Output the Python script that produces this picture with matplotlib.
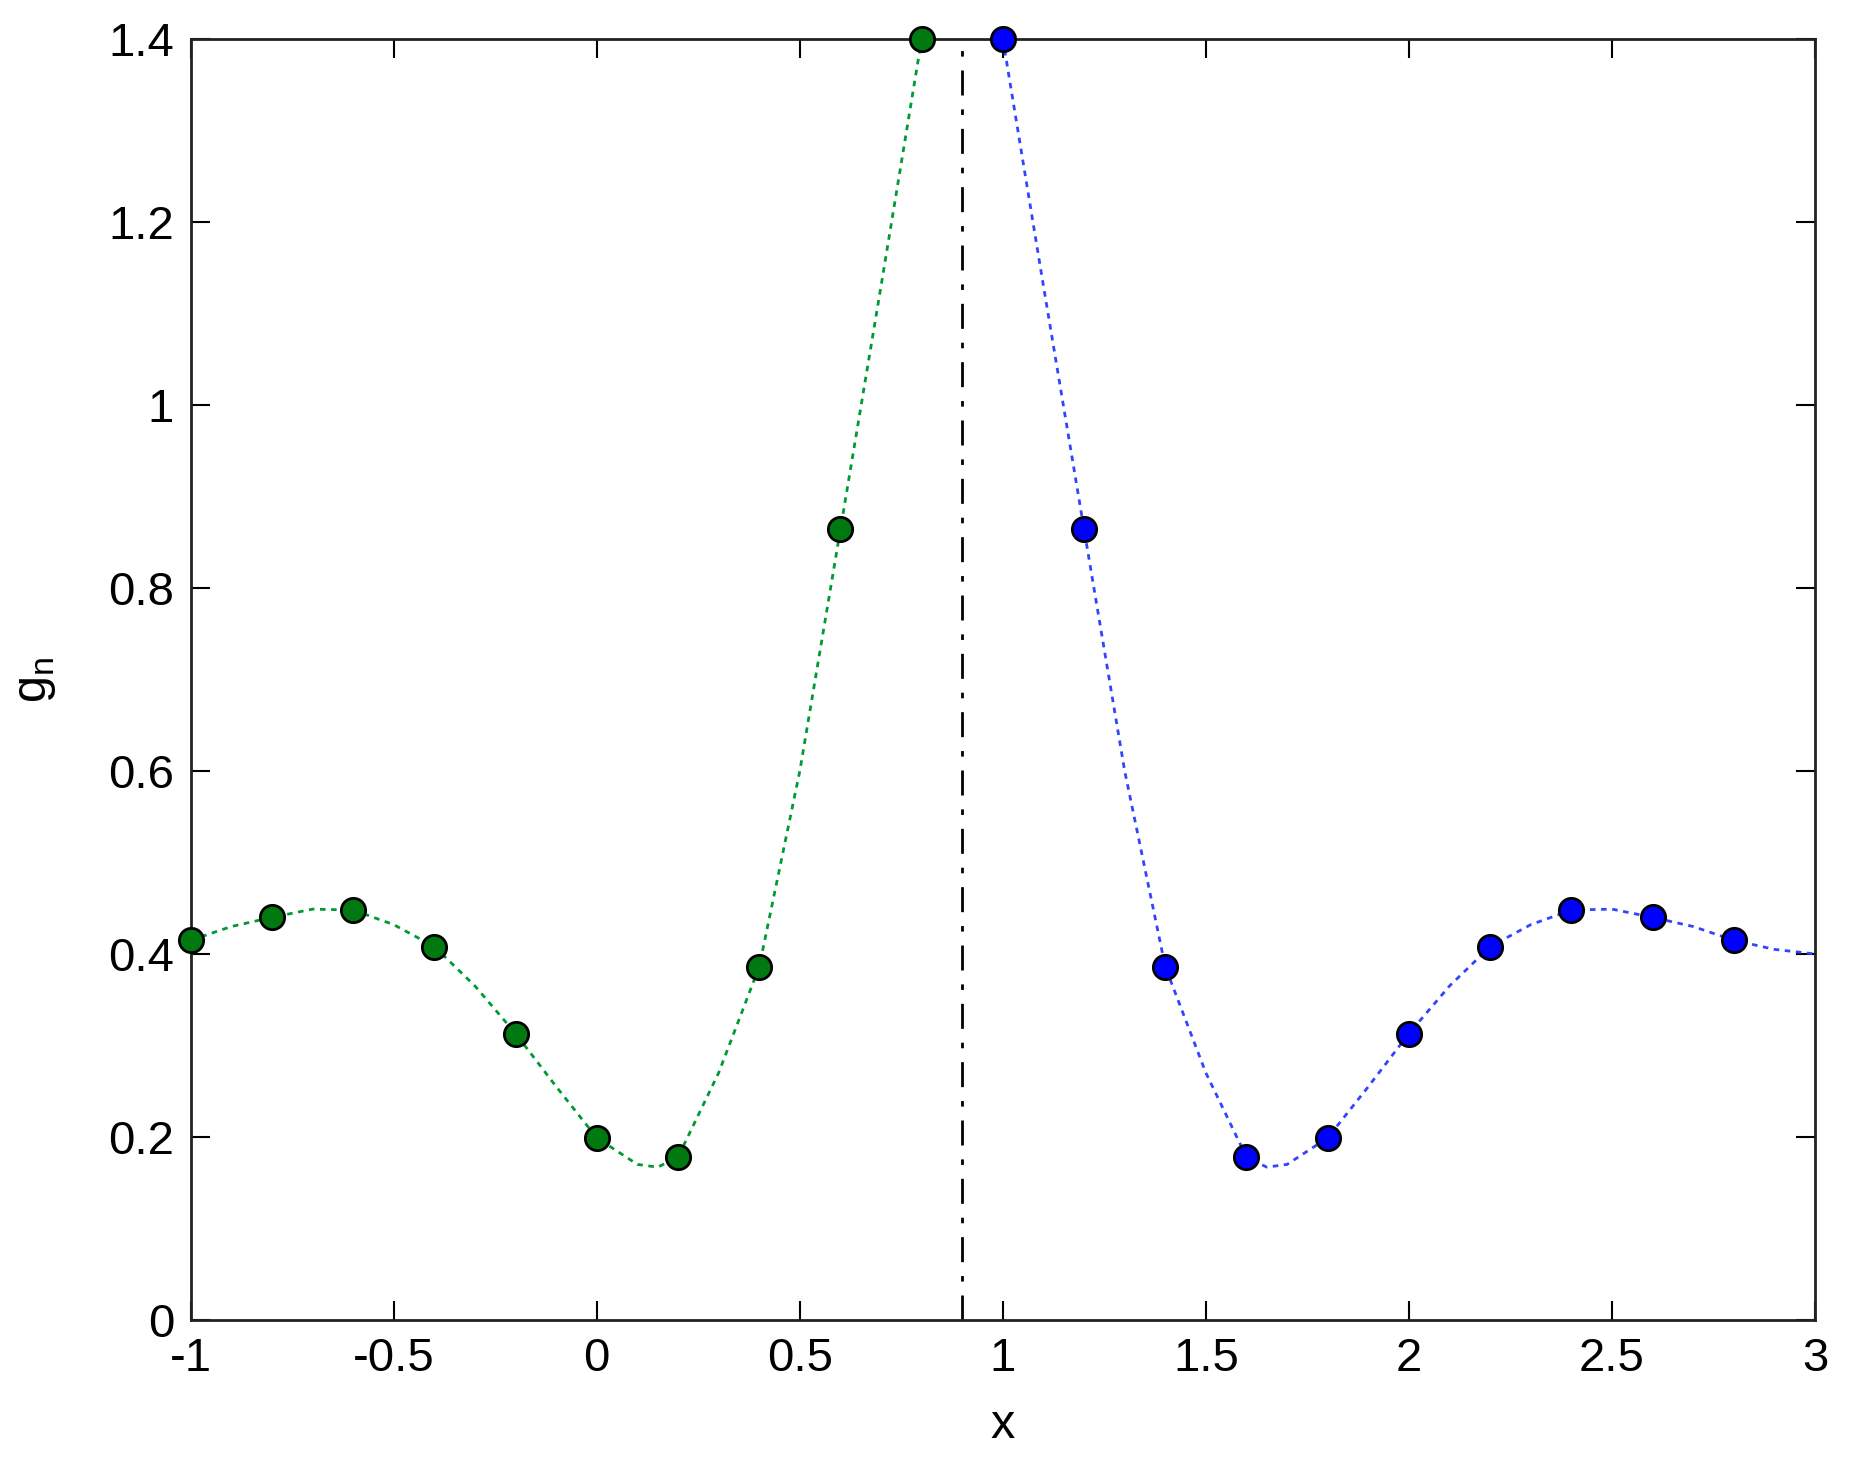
import matplotlib
matplotlib.use('Agg')
import matplotlib.pyplot as plt

plt.rcParams['font.family'] = ['Liberation Sans', 'DejaVu Sans']

# sample points
x_green = [-1.0, -0.8, -0.6, -0.4, -0.2, 0.0, 0.2, 0.4, 0.6, 0.8]
y_green = [0.415, 0.440, 0.448, 0.408, 0.313, 0.199, 0.178, 0.386, 0.864, 1.400]
x_blue = [1.0, 1.2, 1.4, 1.6, 1.8, 2.0, 2.2, 2.4, 2.6, 2.8]
y_blue = [1.400, 0.864, 0.386, 0.178, 0.199, 0.313, 0.408, 0.448, 0.440, 0.415]

# dotted curves through the points (read at finer steps)
cx_green = [-1.0, -0.9, -0.8, -0.7, -0.6, -0.5, -0.4, -0.3, -0.2, -0.1, 0.0,
            0.1, 0.15, 0.2, 0.3, 0.4, 0.5, 0.6, 0.7, 0.8]
cy_green = [0.415, 0.430, 0.440, 0.449, 0.448, 0.432, 0.408, 0.365, 0.313, 0.255, 0.199,
            0.170, 0.167, 0.178, 0.270, 0.386, 0.600, 0.864, 1.130, 1.400]
cx_blue = [1.0, 1.1, 1.2, 1.3, 1.4, 1.5, 1.6, 1.65, 1.7, 1.8, 1.9, 2.0,
           2.1, 2.2, 2.3, 2.4, 2.5, 2.6, 2.7, 2.8, 2.9, 3.0]
cy_blue = [1.400, 1.130, 0.864, 0.600, 0.386, 0.270, 0.178, 0.167, 0.170, 0.199, 0.255, 0.313,
           0.365, 0.408, 0.432, 0.448, 0.449, 0.440, 0.430, 0.415, 0.405, 0.400]

x_sep = 0.9

fig = plt.figure(figsize=(18.52, 14.72), dpi=100)
ax = fig.add_axes([0.103, 0.1033, 0.877, 0.8702])

ax.plot(cx_green, cy_green, color='#009a33', linestyle=(0, (2, 2)), linewidth=2)
ax.plot(cx_blue, cy_blue, color='#3344ff', linestyle=(0, (2, 2)), linewidth=2)
ax.plot(x_green, y_green, 'o', color='#007a10', markeredgecolor='black',
        markeredgewidth=2, markersize=17.5, clip_on=False, zorder=5)
ax.plot(x_blue, y_blue, 'o', color='#0000ff', markeredgecolor='black',
        markeredgewidth=2, markersize=17.5, clip_on=False, zorder=5)
ax.plot([x_sep, x_sep], [0, 1.4], color='black', linewidth=2,
        linestyle=(0, (9, 5, 2, 5)))

ax.set_xlim(-1, 3)
ax.set_ylim(0, 1.4)
ax.set_xticks([-1, -0.5, 0, 0.5, 1, 1.5, 2, 2.5, 3])
ax.set_xticklabels(['-1', '-0.5', '0', '0.5', '1', '1.5', '2', '2.5', '3'])
ax.set_yticks([0, 0.2, 0.4, 0.6, 0.8, 1, 1.2, 1.4])
ax.set_yticklabels(['0', '0.2', '0.4', '0.6', '0.8', '1', '1.2', '1.4'])
ax.tick_params(direction='in', length=14, width=1.5, labelsize=34,
               top=True, right=True, pad=12)
for s in ax.spines.values():
    s.set_linewidth(2)
    s.set_color('#222222')

ax.set_xlabel('x', fontsize=35, labelpad=16)
ax.set_ylabel('g$_\\mathregular{n}$', fontsize=35, labelpad=36)

plt.savefig('out.png')
